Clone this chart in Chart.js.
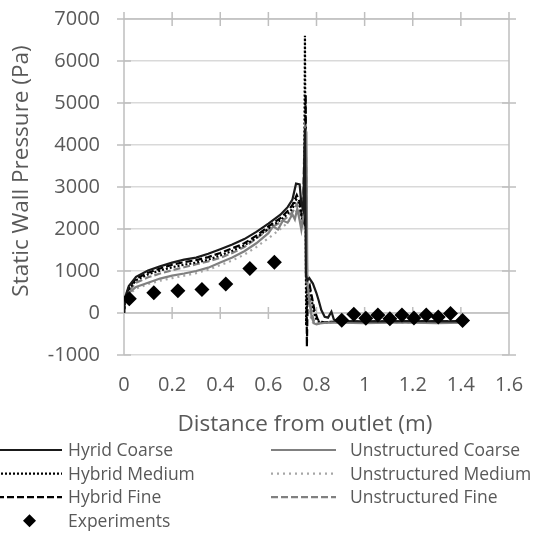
<!DOCTYPE html>
<html>
<head>
<meta charset="utf-8">
<script src="https://cdn.jsdelivr.net/npm/chart.js@4.4.0/dist/chart.umd.min.js"></script>
<style>
  html, body { margin: 0; padding: 0; background: #fff; }
</style>
</head>
<body>
<canvas id="pressureChart" width="542" height="533"></canvas>
<script>
// Values
const hybridCoarseX = [0, 0.005, 0.02, 0.05, 0.1, 0.15, 0.2, 0.25, 0.3, 0.35, 0.4, 0.45, 0.5, 0.55, 0.6, 0.65, 0.68, 0.7, 0.715, 0.73, 0.737, 0.745, 0.752, 0.756, 0.762, 0.77, 0.785, 0.8, 0.81, 0.82, 0.834, 0.848, 0.862, 0.872, 0.885, 0.9, 1.0, 1.1, 1.2, 1.3, 1.41];
const hybridCoarseY = [0, 380, 640, 860, 1010, 1110, 1200, 1270, 1320, 1410, 1520, 1630, 1760, 1930, 2130, 2340, 2520, 2700, 3080, 3060, 2600, 2450, 4400, 900, 780, 830, 700, 470, 280, 70, -90, -110, 30, -150, -200, -190, -200, -200, -190, -200, -200];

const hybridMediumX = [0, 0.005, 0.02, 0.05, 0.1, 0.15, 0.2, 0.25, 0.3, 0.35, 0.4, 0.45, 0.5, 0.55, 0.6, 0.65, 0.68, 0.7, 0.715, 0.728, 0.74, 0.748, 0.752, 0.757, 0.763, 0.77, 0.78, 0.79, 0.8, 0.815, 0.83, 0.85, 0.9, 1.0, 1.1, 1.2, 1.3, 1.41];
const hybridMediumY = [0, 340, 560, 780, 920, 1010, 1090, 1150, 1200, 1270, 1370, 1480, 1610, 1790, 2010, 2210, 2360, 2480, 2700, 2620, 2250, 2150, 6600, -300, 650, 620, 300, 0, -160, -220, -230, -210, -210, -210, -200, -210, -200, -210];

const hybridFineX = [0, 0.005, 0.02, 0.05, 0.1, 0.15, 0.2, 0.25, 0.3, 0.35, 0.4, 0.45, 0.5, 0.55, 0.6, 0.65, 0.68, 0.7, 0.718, 0.73, 0.74, 0.75, 0.755, 0.76, 0.764, 0.772, 0.782, 0.792, 0.805, 0.82, 0.84, 0.9, 1.0, 1.1, 1.2, 1.3, 1.41];
const hybridFineY = [0, 360, 600, 820, 960, 1060, 1150, 1210, 1260, 1330, 1430, 1540, 1660, 1840, 2060, 2260, 2430, 2570, 2810, 2650, 2300, 2200, 5200, -800, 550, 650, 350, 50, -150, -210, -220, -200, -210, -200, -200, -200, -200];

const unstructuredCoarseX = [0.005, 0.02, 0.05, 0.1, 0.15, 0.2, 0.25, 0.3, 0.35, 0.4, 0.45, 0.5, 0.55, 0.6, 0.62, 0.64, 0.66, 0.68, 0.7, 0.71, 0.72, 0.73, 0.737, 0.748, 0.753, 0.758, 0.762, 0.77, 0.78, 0.79, 0.8, 0.815, 0.84, 0.9, 1.0, 1.1, 1.2, 1.3, 1.41];
const unstructuredCoarseY = [300, 480, 620, 720, 820, 890, 940, 1000, 1080, 1200, 1320, 1470, 1660, 1900, 2060, 1990, 2200, 2150, 2350, 2230, 2480, 2200, 1980, 2400, 4400, 4300, 750, 300, -100, -250, -270, -250, -230, -230, -240, -230, -230, -240, -230];

const unstructuredMediumX = [0.005, 0.02, 0.05, 0.1, 0.15, 0.2, 0.25, 0.3, 0.35, 0.4, 0.45, 0.5, 0.55, 0.6, 0.65, 0.68, 0.7, 0.72, 0.73, 0.742, 0.75, 0.756, 0.762, 0.77, 0.78, 0.79, 0.81, 0.84, 0.9, 1.0, 1.1, 1.2, 1.3, 1.41];
const unstructuredMediumY = [280, 440, 580, 690, 770, 830, 890, 950, 1030, 1140, 1250, 1390, 1570, 1780, 2000, 2150, 2300, 2450, 2300, 2100, 3500, 3400, 500, 100, -200, -260, -250, -230, -230, -230, -230, -230, -230, -230];

const unstructuredFineX = [0.005, 0.02, 0.05, 0.1, 0.15, 0.2, 0.25, 0.3, 0.35, 0.4, 0.45, 0.5, 0.55, 0.6, 0.65, 0.68, 0.7, 0.72, 0.73, 0.74, 0.75, 0.756, 0.761, 0.77, 0.78, 0.79, 0.8, 0.82, 0.85, 0.9, 1.0, 1.1, 1.2, 1.3, 1.41];
const unstructuredFineY = [320, 520, 720, 850, 940, 1020, 1090, 1160, 1230, 1310, 1430, 1570, 1770, 1990, 2160, 2290, 2400, 2600, 2350, 2050, 4000, 3900, 800, 400, 0, -200, -250, -230, -220, -220, -220, -220, -220, -220, -220];

const experimentX = [0.022, 0.124, 0.224, 0.324, 0.423, 0.523, 0.625, 0.905, 0.955, 1.005, 1.055, 1.105, 1.155, 1.205, 1.256, 1.306, 1.357, 1.407];
const experimentY = [340, 480, 530, 560, 690, 1060, 1210, -170, -30, -125, -50, -135, -50, -120, -50, -95, -10, -180];

const seriesLabels = ['Hyrid Coarse', 'Unstructured Coarse', 'Hybrid Medium', 'Unstructured Medium', 'Hybrid Fine', 'Unstructured Fine', 'Experiments'];
const xTitle = 'Distance from outlet (m)';
const yTitle = 'Static Wall Pressure (Pa)';

const FONT = "'Open Sans', sans-serif";
const TEXT = '#595959';
const AXIS = '#bfbfbf';

function toPoints(xs, ys) {
    return xs.map((x, i) => ({ x: x, y: ys[i] }));
}

function lineSeries(label, xs, ys, color, dash) {
    return {
        label: label,
        data: toPoints(xs, ys),
        showLine: true,
        borderColor: color,
        backgroundColor: color,
        borderWidth: 2.2,
        borderDash: dash,
        pointRadius: 0,
        tension: 0
    };
}

// Excel-like axis frame: axis lines with crossing tick marks
const axisFrame = {
    id: 'axisFrame',
    beforeDatasetsDraw(chart) {
        const { ctx, chartArea: a, scales: { x, y } } = chart;
        const y0 = y.getPixelForValue(0);
        ctx.save();
        ctx.strokeStyle = AXIS;
        ctx.lineWidth = 1.5;
        ctx.beginPath();
        // left and right axis lines
        ctx.moveTo(a.left, a.top - 7); ctx.lineTo(a.left, a.bottom);
        ctx.moveTo(a.right, a.top - 7); ctx.lineTo(a.right, a.bottom);
        // top line and zero line
        ctx.moveTo(a.left, a.top); ctx.lineTo(a.right + 7, a.top);
        ctx.moveTo(a.left, y0); ctx.lineTo(a.right, y0);
        x.ticks.forEach(t => {
            const px = x.getPixelForValue(t.value);
            ctx.moveTo(px, a.top - 7); ctx.lineTo(px, a.top + 7);
            ctx.moveTo(px, y0 - 6); ctx.lineTo(px, y0 + 6);
        });
        y.ticks.forEach(t => {
            const py = y.getPixelForValue(t.value);
            ctx.moveTo(a.left - 7, py); ctx.lineTo(a.left + 7, py);
            if ((y.max - t.value) % 2000 === 0) {
                ctx.moveTo(a.right - 7, py); ctx.lineTo(a.right + 7, py);
            }
        });
        ctx.stroke();
        ctx.restore();
    }
};

// Axis titles placed as in the reference, plus a two-column legend
const titlesAndLegend = {
    id: 'titlesAndLegend',
    afterDraw(chart) {
        const { ctx } = chart;
        ctx.save();
        ctx.fillStyle = TEXT;
        ctx.textAlign = 'center';
        ctx.textBaseline = 'middle';
        ctx.font = '22.5px ' + FONT;
        ctx.fillText(xTitle, 305, 425);
        ctx.save();
        ctx.translate(22, 171);
        ctx.rotate(-Math.PI / 2);
        ctx.fillText(yTitle, 0, 0);
        ctx.restore();

        const cols = [{ x0: -3, x1: 62, tx: 68 }, { x0: 271, x1: 336, tx: 350 }];
        ctx.font = '17.5px ' + FONT;
        ctx.textAlign = 'left';
        chart.data.datasets.forEach((ds, i) => {
            const col = i < 6 ? cols[i % 2] : cols[0];
            const row = i < 6 ? Math.floor(i / 2) : 3;
            const cy = 450 + row * 23.6;
            if (ds.showLine) {
                ctx.strokeStyle = ds.borderColor;
                ctx.lineWidth = ds.borderWidth;
                ctx.setLineDash(ds.borderDash || []);
                ctx.beginPath();
                ctx.moveTo(col.x0, cy);
                ctx.lineTo(col.x1, cy);
                ctx.stroke();
            } else {
                const cx = (col.x0 + col.x1) / 2;
                ctx.fillStyle = '#000';
                ctx.beginPath();
                ctx.moveTo(cx, cy - 6.5); ctx.lineTo(cx + 6.5, cy);
                ctx.lineTo(cx, cy + 6.5); ctx.lineTo(cx - 6.5, cy);
                ctx.closePath();
                ctx.fill();
                ctx.fillStyle = TEXT;
            }
            ctx.setLineDash([]);
            ctx.fillText(ds.label, col.tx, cy + 1);
        });
        ctx.restore();
    }
};

const config = {
    type: 'scatter',
    data: {
        datasets: [
            lineSeries(seriesLabels[0], hybridCoarseX, hybridCoarseY, '#1a1a1a', []),
            lineSeries(seriesLabels[1], unstructuredCoarseX, unstructuredCoarseY, '#808080', []),
            lineSeries(seriesLabels[2], hybridMediumX, hybridMediumY, '#000000', [2, 2]),
            lineSeries(seriesLabels[3], unstructuredMediumX, unstructuredMediumY, '#a6a6a6', [2, 4]),
            lineSeries(seriesLabels[4], hybridFineX, hybridFineY, '#000000', [7, 3]),
            lineSeries(seriesLabels[5], unstructuredFineX, unstructuredFineY, '#808080', [7, 3]),
            {
                label: seriesLabels[6],
                data: toPoints(experimentX, experimentY),
                showLine: false,
                pointStyle: 'rectRot',
                pointRadius: 7.5,
                backgroundColor: '#000',
                borderColor: '#000',
                borderWidth: 0,
                order: -1
            }
        ]
    },
    options: {
        responsive: false,
        animation: false,
        devicePixelRatio: 1,
        layout: { padding: { top: 19, right: 33, left: 0, bottom: 88 } },
        plugins: { legend: { display: false }, tooltip: { enabled: false } },
        scales: {
            x: {
                type: 'linear',
                min: 0,
                max: 1.6,
                afterFit: s => { s.height = 90; },
                ticks: {
                    stepSize: 0.2,
                    padding: 18,
                    color: TEXT,
                    font: { family: FONT, size: 20 },
                    callback: v => String(Math.round(v * 10) / 10)
                },
                grid: { display: false, drawTicks: false },
                border: { display: false }
            },
            y: {
                min: -1000,
                max: 7000,
                afterFit: s => {
                    s.width = 124;
                    s.paddingTop = 0;
                    s.paddingBottom = 0;
                },
                ticks: {
                    stepSize: 1000,
                    padding: 24,
                    color: TEXT,
                    font: { family: FONT, size: 20 },
                    callback: v => String(v)
                },
                grid: { color: '#d9d9d9', lineWidth: 1.5, drawTicks: false },
                border: { display: false }
            }
        }
    },
    plugins: [axisFrame, titlesAndLegend]
};

new Chart(document.getElementById('pressureChart'), config);
</script>
</body>
</html>
